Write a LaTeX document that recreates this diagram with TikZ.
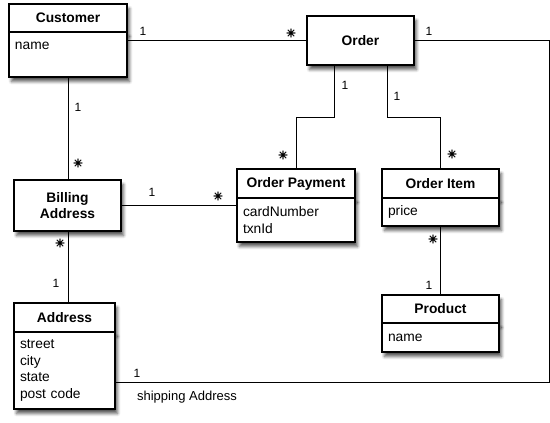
\documentclass[tikz,border=0pt]{standalone}
\usepackage{fontspec}
\setmainfont{Liberation Sans}
\newfontface\symfont[FakeBold=1.6]{DejaVu Sans}
\usetikzlibrary{positioning}
\usetikzlibrary{calc}
\usetikzlibrary{shadows.blur}
\tikzset{boxshadow/.style={blur shadow={shadow xshift=2.5pt,shadow yshift=-4.5pt,shadow blur steps=6,shadow blur radius=3pt,shadow opacity=65}}}
\tikzset{clshead/.style={rectangle,draw=black,line width=1.2pt,fill=white,outer sep=0pt,inner sep=0pt,align=center,font=\fontsize{13.8}{16}\selectfont\bfseries,boxshadow}}
\tikzset{clsbody/.style={rectangle,draw=black,line width=1.2pt,fill=white,outer sep=0pt,inner xsep=6pt,inner ysep=0pt,align=left,font=\fontsize{13.8}{16.7}\selectfont,boxshadow}}
\tikzset{assoc/.style={line width=1pt}}
\tikzset{mult/.style={inner sep=0pt,font=\fontsize{12}{12}\selectfont}}
\tikzset{many/.style={inner sep=0pt,font=\symfont\fontsize{12}{12}\selectfont}}

\begin{document}
\begin{tikzpicture}[x=1pt,y=-1pt]
\useasboundingbox (0,0) rectangle (550,423);

% classes
\node[clshead, minimum width=118, minimum height=28] at (68,18) (cust) {Customer};
\node[clsbody, text width=106, minimum height=45, below=0pt of cust] (custattr) {name\\ \mbox{}};

\node[clshead, minimum width=107, minimum height=49] at (360.5,40.5) (order) {Order};

\node[clshead, minimum width=107, minimum height=51] at (67.5,205.5) (billing) {Billing\\Address};

\node[clshead, minimum width=118, minimum height=29] at (296,183.5) (payhead) {Order Payment};
\node[clsbody, text width=106, minimum height=44, below=0pt of payhead] (payattr) {cardNumber\\txnId};

\node[clshead, minimum width=117, minimum height=29] at (440.5,183.5) (itemhead) {Order Item};
\node[clsbody, text width=105, minimum height=28, below=0pt of itemhead] (itemattr) {price};

\node[clshead, minimum width=117, minimum height=28] at (440.5,309) (prodhead) {Product};
\node[clsbody, text width=105, minimum height=29, below=0pt of prodhead] (prodattr) {name};

\node[clshead, minimum width=101, minimum height=29] at (64.5,317.5) (addrhead) {Address};
\node[clsbody, text width=89, minimum height=77, below=0pt of addrhead] (addrattr) {street\\city\\state\\post code};

% associations
\draw[assoc] (order.west) -- (order.west -| custattr.east);
\draw[assoc] (custattr.south) -- (billing.north -| custattr.south);
\draw[assoc] (billing.east) -- (billing.east -| payattr.west);
\draw[assoc] (billing.south -| custattr.south) -- (addrhead.north -| custattr.south);
\draw[assoc] ($(order.south)+(-26,0)$) -- ++(0,52) -| (payhead.north);
\draw[assoc] ($(order.south)+(27,0)$) -- ++(0,52) -| (itemhead.north);
\draw[assoc] (itemattr.south) -- (prodhead.north);
\coordinate (ship) at (549,382);
\draw[assoc] (order.east) -| (ship) -- (ship -| addrattr.east);

% multiplicities
\node[mult] at (143,31) (m1) {1};
\node[many] at (291,33) (m2) {✳};
\node[mult] at (78,107) (m3) {1};
\node[many] at (78,163) (m4) {✳};
\node[mult] at (152,192) (m5) {1};
\node[many] at (218,196) (m6) {✳};
\node[many] at (60,243) (m7) {✳};
\node[mult] at (56,283) (m8) {1};
\node[mult] at (345,85) (m9) {1};
\node[many] at (283,155) (m10) {✳};
\node[mult] at (397,96) (m11) {1};
\node[many] at (452,154) (m12) {✳};
\node[many] at (433,239) (m13) {✳};
\node[mult] at (429,285) (m14) {1};
\node[mult] at (429,31) (m15) {1};
\node[mult] at (137,373) (m16) {1};
\node[inner sep=0pt,font=\fontsize{13}{13}\selectfont] at (187,397) (shiplbl) {shipping Address};

\end{tikzpicture}
\end{document}
